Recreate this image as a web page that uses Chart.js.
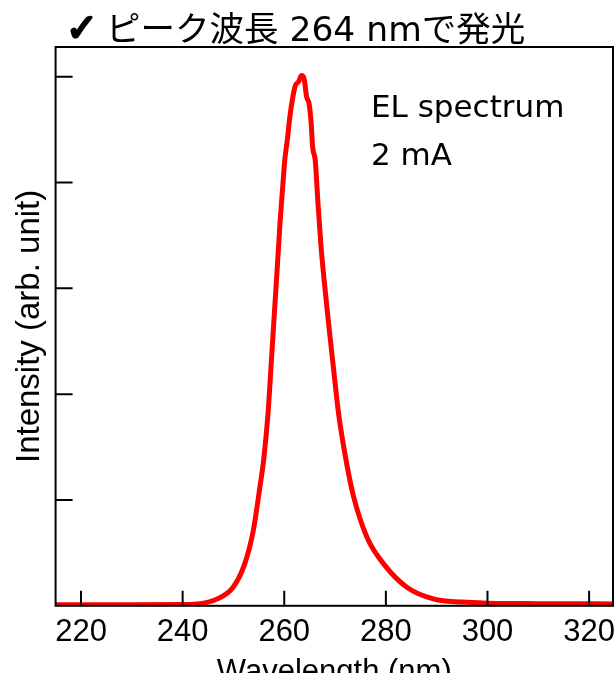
<!DOCTYPE html>
<html>
<head>
<meta charset="utf-8">
<script src="https://cdn.jsdelivr.net/npm/chart.js@4"></script>
<style>
  html, body { margin: 0; padding: 0; background: #fff; }
  #wrap { width: 616px; height: 673px; }
</style>
</head>
<body>
<div id="wrap"><canvas id="spec"></canvas></div>
<script>
// EL spectrum (wavelength in nm, intensity in arb. units)
const wavelength = [215, 230, 240, 243.4, 246.7, 249.9, 252.2, 253.9, 255.1, 256.0, 256.8, 257.5, 258.0,
  258.5, 259.2, 259.7, 260.1, 260.6, 261.1, 261.7, 262.2, 262.8, 263.4, 263.9, 264.4, 264.9, 265.3,
  265.6, 266.1, 266.6, 267.2, 267.8, 268.7, 269.7, 270.7, 272.0, 273.6, 276.3, 279.6, 284.2, 289.5,
  295, 300, 310, 325];
const intensity = [0.01, 0.01, 0.012, 0.02, 0.063, 0.173, 0.394, 0.709, 1.087, 1.402, 1.813, 2.34, 2.72,
  3.10, 3.64, 3.96, 4.21, 4.40, 4.62, 4.81, 4.92, 4.95, 5.01, 4.98, 4.81, 4.74, 4.56,
  4.33, 4.21, 3.83, 3.42, 3.10, 2.68, 2.24, 1.813, 1.42, 1.04, 0.646, 0.394, 0.173, 0.063,
  0.035, 0.025, 0.02, 0.018];
const xTicks = [220, 240, 260, 280, 300, 320];
const yTicks = [1, 2, 3, 4, 5];

const titleMark = "\u2713";
const titleText = "ピーク波長 264 nmで発光";
const noteLines = ["EL spectrum", "2 mA"];
const xTitle = "Wavelength (nm)";
const yTitle = "Intensity (arb. unit)";

const points = wavelength.map((w, i) => ({ x: w, y: intensity[i] }));

// frame, inward ticks and the text annotations
const frameAndText = {
  id: "frameAndText",
  afterDraw(chart) {
    const { ctx, chartArea: a, scales } = chart;
    ctx.save();
    ctx.strokeStyle = "#000";
    ctx.lineWidth = 2;
    ctx.strokeRect(a.left, a.top, a.right - a.left, a.bottom - a.top);
    ctx.beginPath();
    xTicks.forEach(v => {
      const px = scales.x.getPixelForValue(v);
      ctx.moveTo(px, a.bottom);
      ctx.lineTo(px, a.bottom - 15);
    });
    yTicks.forEach(v => {
      const py = scales.y.getPixelForValue(v);
      ctx.moveTo(a.left, py);
      ctx.lineTo(a.left + 17, py);
    });
    ctx.stroke();

    ctx.fillStyle = "#000";
    ctx.textBaseline = "alphabetic";
    ctx.textAlign = "left";
    // heavy check mark: fill plus a stroke to thicken it
    ctx.font = 'bold 38px "DejaVu Sans", sans-serif';
    ctx.lineWidth = 2.5;
    ctx.lineJoin = "round";
    ctx.fillText(titleMark, 66, 41);
    ctx.strokeText(titleMark, 66, 41);
    ctx.font = '34.5px "DejaVu Sans", "Noto Sans CJK JP", sans-serif';
    ctx.fillText(titleText, 106, 41);

    ctx.font = '31px "DejaVu Sans", sans-serif';
    ctx.fillText(noteLines[0], 371, 117);
    ctx.fillText(noteLines[1], 371, 165);

    ctx.textAlign = "center";
    ctx.font = '31px "Liberation Sans", Arial, sans-serif';
    ctx.fillText(xTitle, (a.left + a.right) / 2, 681);
    ctx.restore();
  }
};

new Chart(document.getElementById("spec"), {
  type: "line",
  data: {
    datasets: [{
      data: points,
      borderColor: "#ff0000",
      borderWidth: 5,
      pointRadius: 0,
      fill: false,
      cubicInterpolationMode: "monotone"
    }]
  },
  options: {
    responsive: true,
    maintainAspectRatio: false,
    animation: false,
    layout: { padding: { left: 10, right: 3, top: 47, bottom: 14 } },
    plugins: {
      legend: { display: false },
      title: { display: false },
      tooltip: { enabled: false }
    },
    scales: {
      x: {
        type: "linear",
        min: 215,
        max: 324.7,
        grid: { display: false, drawTicks: false },
        border: { display: false },
        afterBuildTicks: axis => { axis.ticks = xTicks.map(v => ({ value: v })); },
        afterFit: axis => { axis.paddingLeft = 0; axis.paddingRight = 0; },
        ticks: {
          color: "#000",
          padding: 8,
          maxRotation: 0,
          font: { family: '"Liberation Sans", Arial, sans-serif', size: 31 }
        }
      },
      y: {
        type: "linear",
        min: 0,
        max: 5.28,
        grid: { display: false, drawTicks: false },
        border: { display: false },
        ticks: { display: false, stepSize: 1 },
        title: {
          display: true,
          text: yTitle,
          color: "#000",
          padding: { top: 0, bottom: 6 },
          font: { family: '"Liberation Sans", Arial, sans-serif', size: 33 }
        }
      }
    }
  },
  plugins: [frameAndText]
});
</script>
</body>
</html>
